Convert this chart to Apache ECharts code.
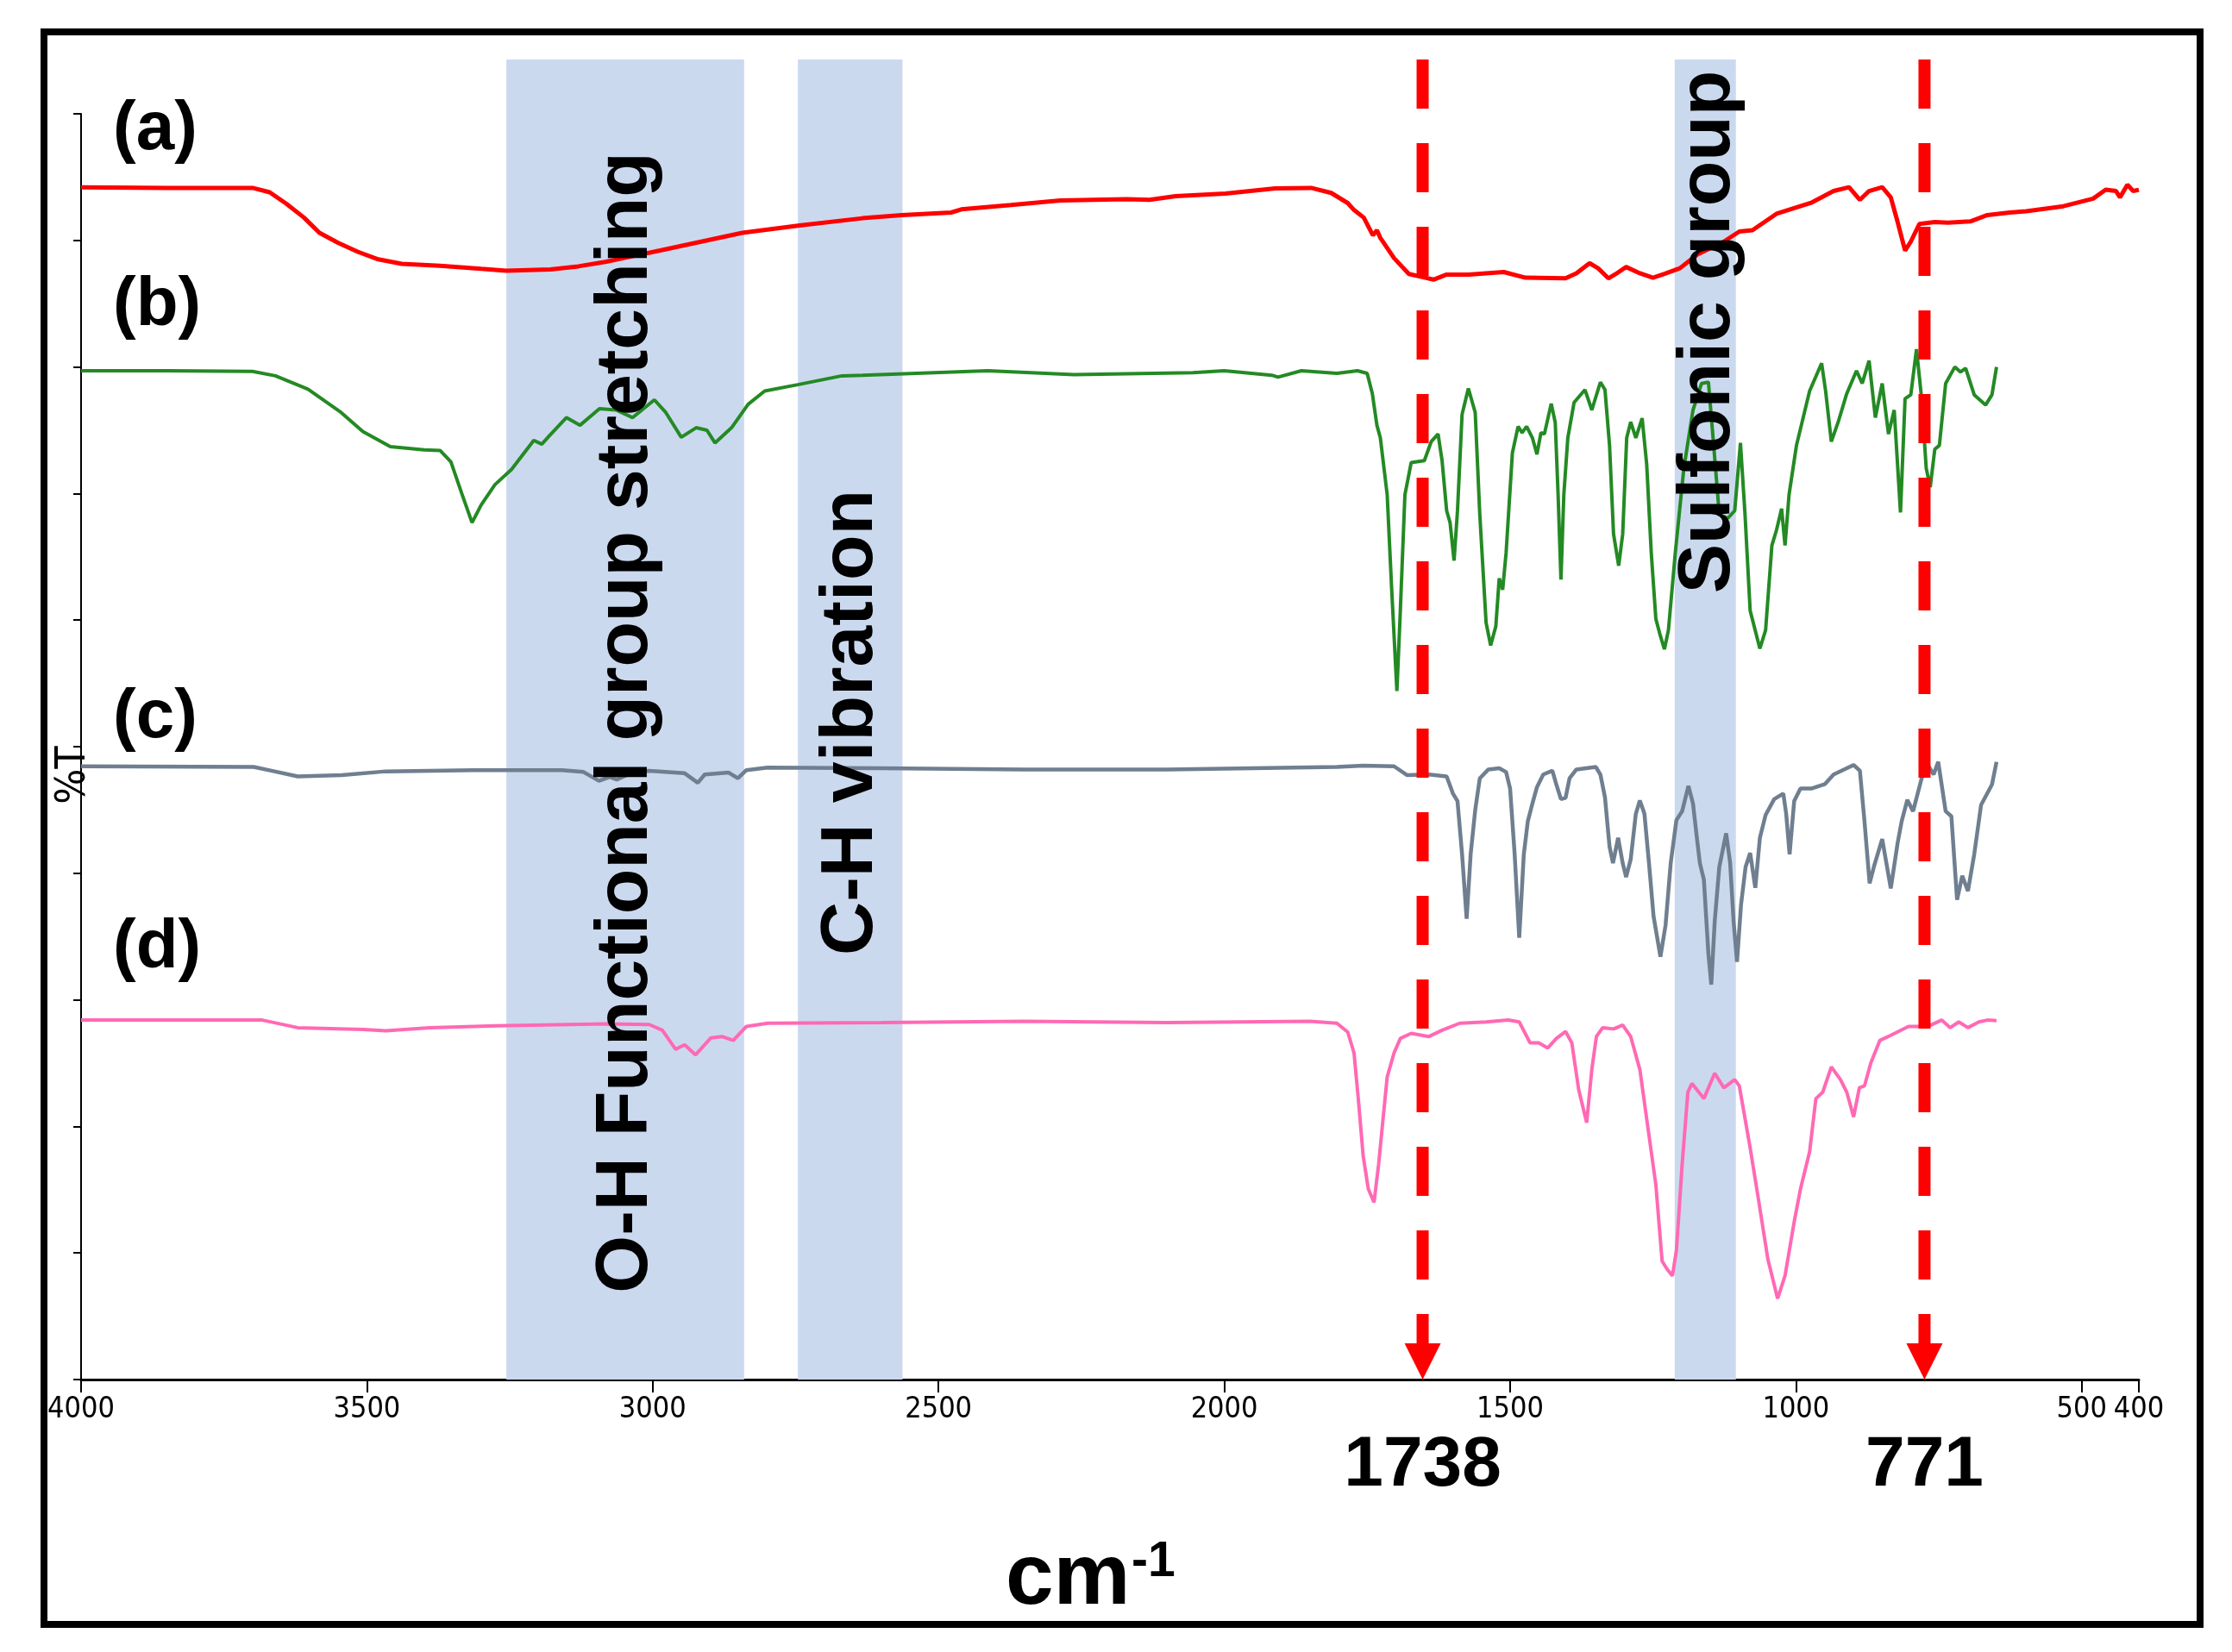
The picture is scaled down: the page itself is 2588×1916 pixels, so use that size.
<!DOCTYPE html>
<html>
<head>
<meta charset="utf-8">
<script src="https://cdn.jsdelivr.net/npm/echarts@6/dist/echarts.min.js"></script>
<style>
  html, body { margin: 0; padding: 0; background: #fff; }
  #chart { width: 2588px; height: 1916px; }
</style>
</head>
<body>
<div id="chart"></div>
<script>
// wavenumber (cm-1), %T in tick units (0..100 over the drawn axis)
var spectrumA = [
  [4000, 94.2], [3850, 94.15], [3700, 94.15], [3670, 93.8], [3641, 92.9], [3610, 91.8], [3583, 90.6],
  [3550, 89.8], [3516, 89.1], [3480, 88.5], [3439, 88.15], [3372, 88.0], [3300, 87.75], [3256, 87.6],
  [3179, 87.7], [3130, 87.95], [3083, 88.3], [3035, 88.75], [2987, 89.2], [2915, 89.9], [2843, 90.6],
  [2740, 91.2], [2633, 91.75], [2564, 92.0], [2478, 92.2], [2460, 92.45], [2373, 92.8], [2287, 93.15],
  [2171, 93.25], [2131, 93.2], [2085, 93.5], [1998, 93.7], [1911, 94.1], [1848, 94.15], [1813, 93.75],
  [1784, 92.95], [1773, 92.4], [1756, 91.8], [1740, 90.4], [1733, 90.8], [1727, 90.2], [1703, 88.6],
  [1677, 87.35], [1653, 87.1], [1634, 86.9], [1611, 87.3], [1573, 87.3], [1511, 87.5], [1473, 87.05],
  [1403, 87.0], [1384, 87.4], [1361, 88.2], [1346, 87.8], [1328, 87.0], [1315, 87.35], [1297, 87.9],
  [1273, 87.4], [1250, 87.05], [1230, 87.35], [1203, 87.8], [1172, 88.9], [1126, 89.9], [1099, 90.7],
  [1076, 90.8], [1034, 92.1], [972, 93.0], [934, 93.9], [907, 94.2], [888, 93.2], [872, 93.9],
  [849, 94.2], [834, 93.4], [822, 91.45], [809, 89.2], [799, 89.9], [784, 91.3], [757, 91.45],
  [734, 91.4], [695, 91.5], [665, 92.0], [626, 92.2], [597, 92.3], [532, 92.7], [480, 93.3],
  [458, 94.0], [440, 93.9], [433, 93.4], [420, 94.4], [410, 93.9], [400, 94.0]
];

var spectrumB = [
  [4000, 79.7], [3850, 79.7], [3700, 79.65], [3660, 79.3], [3603, 78.25], [3545, 76.4], [3507, 74.9],
  [3459, 73.7], [3400, 73.45], [3372, 73.4], [3353, 72.5], [3334, 70.0], [3316, 67.7], [3300, 69.1],
  [3276, 70.7], [3247, 71.9], [3208, 74.2], [3194, 73.9], [3180, 74.6], [3151, 76.0], [3127, 75.4],
  [3093, 76.7], [3064, 76.6], [3035, 76.0], [2997, 77.4], [2977, 76.4], [2950, 74.45], [2924, 75.2],
  [2905, 75.0], [2891, 74.0], [2862, 75.2], [2833, 77.05], [2804, 78.1], [2746, 78.6], [2669, 79.3],
  [2633, 79.35], [2414, 79.7], [2263, 79.4], [2055, 79.55], [2000, 79.7], [1917, 79.35], [1906, 79.2],
  [1865, 79.7], [1803, 79.5], [1767, 79.7], [1750, 79.5], [1741, 77.9], [1733, 75.4], [1727, 74.4],
  [1715, 69.9], [1707, 62.3], [1698, 54.4], [1692, 60.75], [1684, 69.9], [1673, 72.45], [1650, 72.6],
  [1638, 74.1], [1626, 74.7], [1619, 72.6], [1611, 68.65], [1605, 67.7], [1598, 64.7], [1592, 68.65],
  [1584, 76.25], [1573, 78.3], [1561, 76.4], [1553, 68.35], [1542, 59.8], [1534, 58.0], [1525, 59.5],
  [1519, 63.3], [1513, 62.4], [1507, 65.3], [1496, 73.2], [1486, 75.3], [1479, 74.8], [1471, 75.3],
  [1461, 74.4], [1453, 73.1], [1446, 74.8], [1440, 74.7], [1428, 77.1], [1421, 75.6], [1416, 69.9],
  [1411, 63.2], [1406, 69.9], [1399, 74.4], [1388, 77.2], [1369, 78.2], [1357, 76.6], [1342, 78.8],
  [1334, 78.2], [1326, 73.8], [1319, 66.8], [1310, 64.3], [1303, 66.8], [1296, 74.4], [1289, 75.65],
  [1280, 74.4], [1269, 75.95], [1261, 72.3], [1253, 65.3], [1245, 60.1], [1238, 58.9], [1230, 57.7],
  [1223, 59.2], [1211, 65.3], [1196, 72.0], [1180, 76.6], [1165, 78.7], [1153, 78.8], [1146, 75.0],
  [1134, 68.35], [1119, 68.05], [1107, 68.65], [1097, 74.0], [1089, 68.35], [1080, 60.75], [1063, 57.75],
  [1053, 59.2], [1042, 65.9], [1034, 67.1], [1025, 68.8], [1019, 65.9], [1012, 69.9], [999, 73.8],
  [976, 78.1], [955, 80.3], [948, 78.1], [938, 74.1], [926, 75.65], [911, 77.9], [894, 79.7],
  [884, 78.7], [872, 80.5], [861, 76.0], [849, 78.7], [838, 74.7], [828, 76.6], [817, 68.5],
  [809, 77.5], [799, 77.8], [789, 81.4], [780, 77.5], [772, 72.0], [765, 70.5], [757, 73.5],
  [749, 73.8], [738, 78.7], [722, 80.0], [712, 79.6], [703, 79.9], [688, 77.8], [668, 77.0],
  [657, 77.8], [649, 80.0]
];

var spectrumC = [
  [4000, 48.45], [3698, 48.4], [3667, 48.1], [3621, 47.65], [3544, 47.75], [3467, 48.05], [3313, 48.15],
  [3159, 48.15], [3121, 48.0], [3094, 47.3], [3075, 47.6], [3063, 47.4], [3036, 47.95], [3006, 48.1],
  [2944, 47.9], [2921, 47.15], [2909, 47.8], [2867, 47.95], [2851, 47.5], [2836, 48.15], [2799, 48.35],
  [2600, 48.3], [2350, 48.2], [2100, 48.2], [1950, 48.3], [1803, 48.4], [1757, 48.5], [1703, 48.45],
  [1680, 47.75], [1642, 47.8], [1611, 47.65], [1600, 46.3], [1592, 45.7], [1584, 41.5], [1576, 36.4],
  [1569, 41.5], [1561, 45.0], [1553, 47.5], [1538, 48.2], [1519, 48.3], [1507, 48.0], [1500, 46.7],
  [1492, 41.5], [1484, 34.9], [1476, 41.5], [1469, 44.1], [1461, 45.5], [1453, 46.8], [1442, 47.8],
  [1426, 48.1], [1419, 47.0], [1411, 45.85], [1403, 45.95], [1396, 47.5], [1384, 48.2], [1350, 48.4],
  [1342, 47.8], [1334, 46.0], [1326, 42.1], [1320, 40.8], [1311, 42.8], [1303, 40.8], [1297, 39.7],
  [1289, 41.1], [1280, 44.7], [1273, 45.75], [1265, 44.7], [1257, 40.8], [1249, 36.6], [1237, 33.4],
  [1228, 35.9], [1219, 40.8], [1209, 44.2], [1199, 44.9], [1188, 46.9], [1180, 45.5], [1174, 43.1],
  [1168, 40.8], [1161, 39.5], [1153, 33.6], [1148, 31.2], [1142, 36.2], [1134, 40.5], [1122, 43.15],
  [1115, 40.8], [1109, 36.2], [1103, 33.0], [1096, 37.5], [1088, 40.5], [1080, 41.6], [1071, 38.85],
  [1063, 42.8], [1053, 44.6], [1038, 45.85], [1022, 46.3], [1017, 44.7], [1011, 41.5], [1003, 45.7],
  [992, 46.7], [972, 46.7], [949, 47.05], [934, 47.8], [899, 48.55], [888, 48.1], [880, 44.1],
  [871, 39.2], [863, 40.6], [849, 42.7], [834, 38.8], [822, 42.4], [815, 44.1], [805, 45.8],
  [795, 44.9], [780, 47.5], [769, 48.55], [759, 47.8], [751, 48.8], [738, 44.9], [728, 44.5],
  [718, 37.9], [709, 39.8], [699, 38.6], [688, 41.5], [676, 45.4], [657, 47.0], [649, 48.8]
];

var spectrumD = [
  [4000, 28.4], [3683, 28.4], [3621, 27.8], [3506, 27.65], [3467, 27.55], [3390, 27.8], [3275, 27.95],
  [3082, 28.1], [3006, 28.05], [2983, 27.6], [2960, 26.1], [2944, 26.45], [2925, 25.65], [2898, 27.0],
  [2879, 27.1], [2859, 26.8], [2836, 27.9], [2799, 28.15], [2600, 28.2], [2350, 28.3], [2100, 28.2],
  [1850, 28.3], [1803, 28.15], [1784, 27.45], [1773, 25.8], [1765, 21.9], [1757, 17.65], [1748, 15.05],
  [1738, 14.0], [1730, 17.0], [1723, 20.25], [1715, 23.9], [1703, 25.8], [1692, 26.95], [1673, 27.35],
  [1642, 27.1], [1619, 27.6], [1588, 28.15], [1542, 28.25], [1503, 28.4], [1484, 28.25], [1465, 26.6],
  [1450, 26.6], [1434, 26.2], [1419, 26.95], [1403, 27.5], [1392, 26.6], [1380, 22.9], [1366, 20.3],
  [1357, 24.5], [1349, 27.1], [1338, 27.8], [1319, 27.7], [1303, 28.0], [1289, 27.1], [1273, 24.5],
  [1257, 19.3], [1245, 15.4], [1234, 9.35], [1225, 8.7], [1216, 8.2], [1209, 10.2], [1199, 17.0],
  [1189, 22.7], [1182, 23.4], [1161, 22.2], [1142, 24.2], [1126, 23.05], [1107, 23.7], [1099, 23.2],
  [1080, 18.3], [1065, 14.1], [1049, 9.5], [1032, 6.4], [1019, 8.2], [1003, 12.45], [992, 15.05],
  [976, 18.0], [965, 22.2], [953, 22.7], [938, 24.7], [922, 23.7], [911, 22.7], [899, 20.75],
  [889, 23.05], [880, 23.2], [869, 25.0], [853, 26.8], [834, 27.2], [803, 27.9], [769, 27.9],
  [745, 28.4], [730, 27.8], [715, 28.25], [699, 27.8], [680, 28.25], [665, 28.4], [649, 28.35]
];

var xTicks = [4000, 3500, 3000, 2500, 2000, 1500, 1000, 500, 400];
var yTicks = [0, 10, 20, 30, 40, 50, 60, 70, 80, 90, 100];

// shaded regions [from, to] in cm-1, and top of shading / arrows in %T units
var bandRanges = [[3256, 2840], [2746, 2563], [1212, 1105]];
var bandTop = 104.3;
var arrowPositions = [1653, 775];
var arrowLabels = ['1738', '771'];

var boldFont = "'Liberation Sans', Arial, sans-serif";
var narrowFont = "'Liberation Sans Narrow', 'DejaVu Sans Condensed', sans-serif";

var myChart = echarts.init(document.getElementById('chart'));

function lineSeries(name, data, color, width) {
    return {
        name: name,
        type: 'line',
        data: data,
        showSymbol: false,
        symbol: 'none',
        z: 3,
        lineStyle: { color: color, width: width }
    };
}

option = {
    animation: false,
    backgroundColor: '#fff',
    grid: {
        left: 94,
        right: 108,
        top: 132,
        bottom: 316
    },
    xAxis: {
        type: 'value',
        min: 400,
        max: 4000,
        inverse: true,
        splitLine: { show: false },
        axisLine: { onZero: false, lineStyle: { color: '#000', width: 3 } },
        axisTick: {
            customValues: xTicks,
            length: 15,
            lineStyle: { color: '#000', width: 2 }
        },
        axisLabel: {
            customValues: xTicks,
            margin: 18,
            fontSize: 34,
            fontFamily: narrowFont,
            color: '#000',
            hideOverlap: false,
            showMinLabel: true,
            showMaxLabel: true,
            formatter: function (v) { return String(v); }
        }
    },
    yAxis: {
        type: 'value',
        min: 0,
        max: 100,
        interval: 10,
        splitLine: { show: false },
        axisLine: { show: true, onZero: false, lineStyle: { color: '#000', width: 2 } },
        axisTick: {
            customValues: yTicks,
            length: 9,
            lineStyle: { color: '#000', width: 2 }
        },
        axisLabel: { show: false }
    },
    series: [{
        name: 'bands',
        type: 'custom',
        z: 1,
        silent: true,
        clip: false,
        encode: { x: [0, 1] },
        data: bandRanges,
        renderItem: function (params, api) {
            var p0 = api.coord([api.value(0), bandTop]);
            var p1 = api.coord([api.value(1), 0]);
            return {
                type: 'rect',
                shape: {
                    x: Math.min(p0[0], p1[0]),
                    y: p0[1],
                    width: Math.abs(p1[0] - p0[0]),
                    height: p1[1] - p0[1]
                },
                style: { fill: '#cbd9ef' }
            };
        }
    },
        lineSeries('(a)', spectrumA, '#ff0000', 5),
        lineSeries('(b)', spectrumB, '#248a24', 4),
        lineSeries('(c)', spectrumC, '#6f7f90', 4.5),
        lineSeries('(d)', spectrumD, '#ff69b4', 4),
    {
        name: 'arrows',
        type: 'custom',
        z: 5,
        silent: true,
        clip: false,
        encode: { x: 0 },
        data: arrowPositions.map(function (v) { return [v]; }),
        renderItem: function (params, api) {
            var top = api.coord([api.value(0), bandTop]);
            var base = api.coord([api.value(0), 0]);
            var x = base[0];
            var headH = 42, headW = 21;
            return {
                type: 'group',
                children: [{
                    type: 'line',
                    shape: { x1: x, y1: top[1], x2: x, y2: base[1] - headH + 2 },
                    style: { stroke: '#ff0000', lineWidth: 14, lineDash: [57, 40], lineCap: 'butt' }
                }, {
                    type: 'polygon',
                    shape: { points: [[x - headW, base[1] - headH], [x + headW, base[1] - headH], [x, base[1]]] },
                    style: { fill: '#ff0000' }
                }, {
                    type: 'text',
                    style: {
                        text: arrowLabels[params.dataIndex],
                        x: x,
                        y: base[1] + 100,
                        align: 'center',
                        verticalAlign: 'middle',
                        font: 'bold 82px ' + boldFont,
                        fill: '#000'
                    }
                }]
            };
        }
    }],
    graphic: [{
        type: 'rect',
        shape: { x: 51, y: 37, width: 2500, height: 1847 },
        style: { fill: 'none', stroke: '#000', lineWidth: 8 },
        z: 50
    }, {
        type: 'text', x: 131, y: 151, z: 50,
        style: { text: '(a)', font: 'bold 80px ' + boldFont, fill: '#000', verticalAlign: 'middle' }
    }, {
        type: 'text', x: 131, y: 355, z: 50,
        style: { text: '(b)', font: 'bold 80px ' + boldFont, fill: '#000', verticalAlign: 'middle' }
    }, {
        type: 'text', x: 131, y: 833, z: 50,
        style: { text: '(c)', font: 'bold 80px ' + boldFont, fill: '#000', verticalAlign: 'middle' }
    }, {
        type: 'text', x: 131, y: 1100, z: 50,
        style: { text: '(d)', font: 'bold 80px ' + boldFont, fill: '#000', verticalAlign: 'middle' }
    }, {
        type: 'text', x: 726, y: 838, rotation: Math.PI / 2, z: 50,
        style: { text: 'O-H Functional group stretching', font: 'bold 86px ' + boldFont, fill: '#000', align: 'center', verticalAlign: 'middle' }
    }, {
        type: 'text', x: 987, y: 838, rotation: Math.PI / 2, z: 50,
        style: { text: 'C-H vibration', font: 'bold 86px ' + boldFont, fill: '#000', align: 'center', verticalAlign: 'middle' }
    }, {
        type: 'text', x: 1981, y: 385, rotation: Math.PI / 2, z: 50,
        style: { text: 'Sulfonic group', font: 'bold 86px ' + boldFont, fill: '#000', align: 'center', verticalAlign: 'middle' }
    }, {
        type: 'text', x: 86, y: 899, rotation: Math.PI / 2, z: 50,
        style: { text: '%T', font: '48px ' + narrowFont, fill: '#000', align: 'center', verticalAlign: 'middle' }
    }, {
        type: 'text', x: 1166, y: 1832, z: 50,
        style: { text: 'cm', font: 'bold 100px ' + boldFont, fill: '#000', verticalAlign: 'middle' }
    }, {
        type: 'text', x: 1312, y: 1812, z: 50,
        style: { text: '-1', font: 'bold 57px ' + boldFont, fill: '#000', verticalAlign: 'middle' }
    }]
};

myChart.setOption(option);
</script>
</body>
</html>
